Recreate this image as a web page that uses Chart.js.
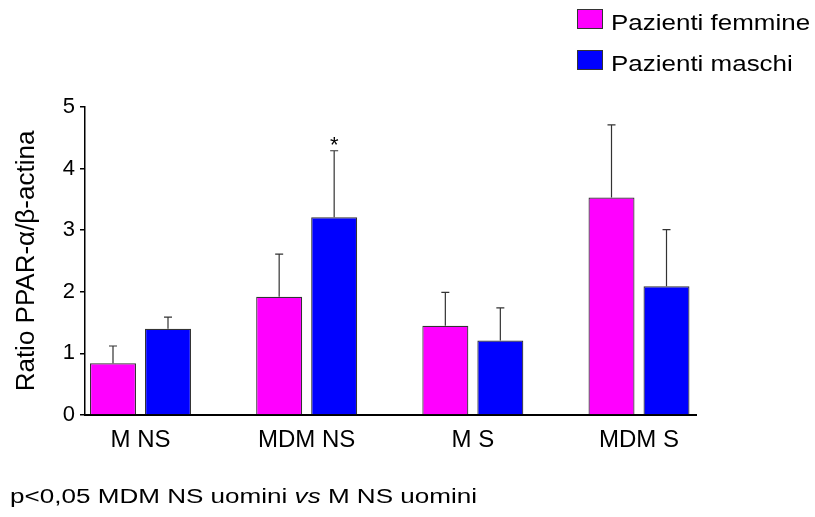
<!DOCTYPE html>
<html>
<head>
<meta charset="utf-8">
<script src="https://cdn.jsdelivr.net/npm/chart.js@4/dist/chart.umd.min.js"></script>
<style>
    html, body { margin: 0; padding: 0; background: #fff; }
    #wrap { position: relative; width: 815px; height: 517px; }
    #note {
        position: absolute; left: 10px; top: 487px;
        font-family: "Liberation Sans", Arial, sans-serif; font-size: 19.6px; line-height: 1;
        color: #000; white-space: nowrap;
        transform: scaleX(1.33); transform-origin: left top;
    }
</style>
</head>
<body>
<div id="wrap">
    <canvas id="chart" width="815" height="517"></canvas>
    <div id="note">p&lt;0,05 MDM NS uomini <i>vs</i> M NS uomini</div>
</div>
<script>
// Data
const categories = ["M NS", "MDM NS", "M S", "MDM S"];
const femaleValues = [0.84, 1.92, 1.45, 3.53];
const femaleErrors = [0.28, 0.69, 0.54, 1.18];
const maleValues = [1.40, 3.21, 1.21, 2.09];
const maleErrors = [0.19, 1.08, 0.53, 0.92];
const maleMarks = ["", "*", "", ""];
const femaleMarks = ["", "", "", ""];
const yTicks = [0, 1, 2, 3, 4, 5];

const FONT = "'Liberation Sans', Arial, sans-serif";

function toPoints(values) {
    return values.map((v, i) => ({ x: i, y: v }));
}

// Draws only the upper whisker of each error bar, plus significance marks
const errorBarPlugin = {
    id: 'errorBars',
    afterDatasetsDraw(chart) {
        const ctx = chart.ctx;
        const yScale = chart.scales.y;
        chart.data.datasets.forEach((ds, di) => {
            const meta = chart.getDatasetMeta(di);
            meta.data.forEach((bar, i) => {
                const top = yScale.getPixelForValue(ds.data[i].y + ds.errors[i]);
                ctx.save();
                ctx.strokeStyle = '#333';
                ctx.lineWidth = 1.2;
                ctx.beginPath();
                ctx.moveTo(bar.x, bar.y);
                ctx.lineTo(bar.x, top);
                ctx.moveTo(bar.x - 4, top);
                ctx.lineTo(bar.x + 4, top);
                ctx.stroke();
                if (ds.marks[i]) {
                    ctx.fillStyle = '#000';
                    ctx.font = '22px ' + FONT;
                    ctx.textAlign = 'center';
                    ctx.textBaseline = 'alphabetic';
                    ctx.fillText(ds.marks[i], bar.x, top + 1);
                }
                ctx.restore();
            });
        });
    }
};

// Legend in the top right corner, one entry per row
const legendPlugin = {
    id: 'boxLegend',
    afterDraw(chart) {
        const ctx = chart.ctx;
        chart.data.datasets.forEach((ds, i) => {
            const y = 9 + i * 41;
            ctx.save();
            ctx.fillStyle = ds.backgroundColor;
            ctx.strokeStyle = '#333';
            ctx.lineWidth = 1;
            ctx.fillRect(577, y, 26, 20);
            ctx.strokeRect(577.5, y + 0.5, 25, 19);
            ctx.fillStyle = '#000';
            ctx.font = '22px ' + FONT;
            ctx.textBaseline = 'alphabetic';
            ctx.translate(611, y + 21);
            ctx.scale(1.18, 1);
            ctx.fillText(ds.label, 0, 0);
            ctx.restore();
        });
    }
};

const ctx = document.getElementById('chart').getContext('2d');
const chart = new Chart(ctx, {
    type: 'bar',
    data: {
        datasets: [{
            label: 'Pazienti femmine',
            data: toPoints(femaleValues),
            errors: femaleErrors,
            marks: femaleMarks,
            backgroundColor: '#ff00ff',
            borderColor: '#333',
            borderWidth: 1.2
        }, {
            label: 'Pazienti maschi',
            data: toPoints(maleValues),
            errors: maleErrors,
            marks: maleMarks,
            backgroundColor: '#0000ff',
            borderColor: '#333',
            borderWidth: 1.2
        }]
    },
    options: {
        responsive: false,
        animation: false,
        categoryPercentage: 0.662,
        barPercentage: 0.836,
        layout: { padding: { left: 0, top: 107, right: 119, bottom: 0 } },
        plugins: {
            legend: { display: false },
            tooltip: { enabled: false }
        },
        scales: {
            x: {
                type: 'linear',
                offset: false,
                min: -0.334,
                max: 3.343,
                grid: { display: false, drawTicks: false, offset: false },
                border: { display: true, color: '#000', width: 2 },
                ticks: {
                    stepSize: 1,
                    includeBounds: false,
                    autoSkip: false,
                    maxRotation: 0,
                    padding: 11,
                    color: '#000',
                    font: { family: FONT, size: 24 },
                    callback: (v) => Number.isInteger(v) ? categories[v] : ''
                },
                afterFit(scale) { scale.height = 102; }
            },
            y: {
                min: 0,
                max: 5,
                afterBuildTicks(scale) { scale.ticks = yTicks.map(v => ({ value: v })); },
                grid: { display: true, drawOnChartArea: false, drawTicks: true, tickLength: 5, color: '#000', lineWidth: 1.5 },
                border: { display: true, color: '#000', width: 1.5 },
                ticks: {
                    padding: 5,
                    color: '#000',
                    font: { family: FONT, size: 22 }
                },
                title: {
                    display: true,
                    text: 'Ratio PPAR-\u03b1/\u03b2-actina',
                    color: '#000',
                    font: { family: FONT, size: 26 },
                    padding: { top: 11, bottom: 0 }
                },
                afterFit(scale) { scale.width = 85; }
            }
        }
    },
    plugins: [errorBarPlugin, legendPlugin]
});
</script>
</body>
</html>
